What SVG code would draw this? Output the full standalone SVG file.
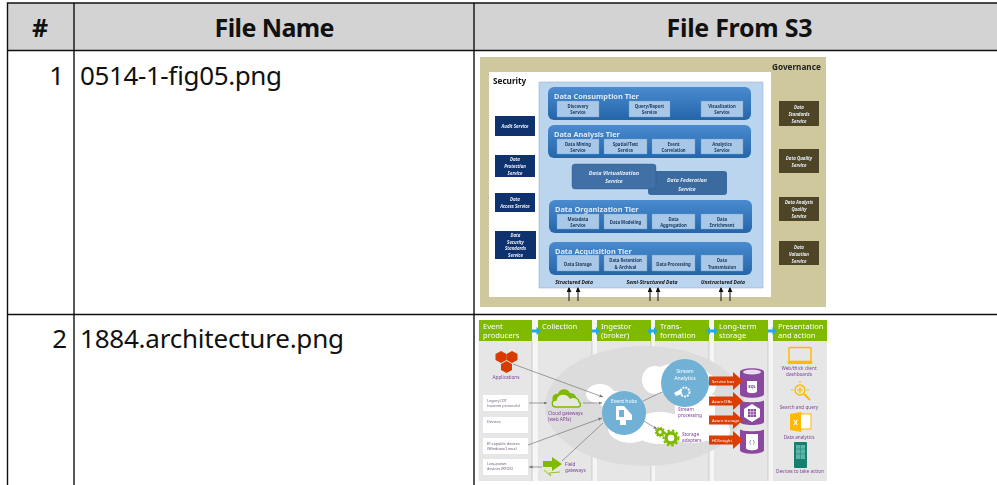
<svg xmlns="http://www.w3.org/2000/svg" width="997" height="485" viewBox="0 0 997 485">
<style>
text{font-family:"Noto Sans","Liberation Sans",sans-serif}
.gl{stroke:#111;stroke-width:1.4;fill:none}
.h{font-size:25px;font-weight:700;fill:#111;text-anchor:middle}
.c{font-size:26px;fill:#111}
.s{font-weight:700}
.lb{fill:#e8eef6;font-size:4.4px;font-weight:700;font-style:italic;text-anchor:middle}
.tier{fill:#2f70b8}
.tt{fill:#dbe8f6;font-size:7.4px;font-weight:700}
.bx{fill:#a9c8e8;stroke:#6f9ccc;stroke-width:.4}
.bt{fill:#17365d;font-size:4.3px;font-weight:700;text-anchor:middle}
.nv{fill:#10306e}
.ol{fill:#4e4527}
.ds{fill:#111;font-size:5px;font-weight:700;font-style:italic;text-anchor:middle}
.col{fill:#e6e6e6}
.gr{fill:#7fba00}
.ht{fill:#fff;font-size:7.6px}
.p{fill:#7b3f98;font-size:4.7px}
.pm{fill:#7b3f98;font-size:4.7px;text-anchor:middle}
.w{fill:#fff}
.ln{stroke:#777;stroke-width:.7;fill:none}
.ar{fill:#dc3c00}
.rt{fill:#fff;font-size:4.2px}
.cy{fill:#8a4a9f}
.ba{fill:#27a9e1}
.sm{fill:#6b5a78;font-size:3.8px}
</style>
<defs>
<filter id="soft" x="-2%" y="-2%" width="104%" height="104%"><feGaussianBlur stdDeviation="0.3"/></filter>
<marker id="ah" markerWidth="5" markerHeight="5" refX="4" refY="2.5" orient="auto"><path d="M0 0L5 2.5L0 5z" fill="#111"/></marker>
<marker id="gh" markerWidth="6" markerHeight="6" refX="5" refY="3" orient="auto"><path d="M0 .8L5 3L0 5.2z" fill="#777"/></marker>
<linearGradient id="tg" x1="0" y1="0" x2="0" y2="1"><stop offset="0" stop-color="#4a8bd0"/><stop offset="1" stop-color="#2465a8"/></linearGradient>
</defs>

<g id="table">
<rect x="8" y="3" width="989" height="47.500" fill="#d3d3d3"/>
<path class="gl" d="M997 3H7.500V485M74 3V485M474 3V485M7 50.500H997M7 314.500H997"/>
<text class="h" x="40" y="37">#</text>
<text class="h" x="274.500" y="37" textLength="120">File Name</text>
<text class="h" x="739.500" y="37" textLength="146">File From S3</text>
<text class="c" x="64" y="85" text-anchor="end">1</text>
<text class="c" x="80" y="85" textLength="202">0514-1-fig05.png</text>
<text class="c" x="67" y="348" text-anchor="end">2</text>
<text class="c" x="80" y="348" textLength="264">1884.architecture.png</text>
</g>

<g id="figure-1" filter="url(#soft)">
<rect x="480" y="57" width="346" height="250" fill="#cfc89c"/>
<rect x="489" y="72" width="282" height="225" fill="#fff"/>
<rect x="539" y="82" width="224" height="206" fill="#bcd5ef" stroke="#8aa9c8" stroke-width=".5"/>
<text x="772" y="69.500" font-size="8.200" font-weight="700" fill="#222">Governance</text>
<text x="493" y="84" font-size="8.200" font-weight="700" fill="#111">Security</text>

<g id="tier-consumption">
<rect x="548" y="87" width="203" height="33" rx="6" fill="url(#tg)"/>
<text class="tt" x="554" y="99">Data Consumption Tier</text>
<rect class="bx" x="557" y="101" width="42" height="16"/><text class="bt" x="578" y="108">Discovery</text><text class="bt" x="578" y="114">Service</text>
<rect class="bx" x="629" y="101" width="41" height="16"/><text class="bt" x="649.500" y="108">Query/Report</text><text class="bt" x="649.500" y="114">Service</text>
<rect class="bx" x="701" y="101" width="42" height="16"/><text class="bt" x="722" y="108">Visualization</text><text class="bt" x="722" y="114">Service</text>
</g>
<g id="tier-analysis">
<rect x="548" y="125" width="203" height="33" rx="6" fill="url(#tg)"/>
<text class="tt" x="554" y="137">Data Analysis Tier</text>
<rect class="bx" x="557" y="139" width="42" height="15"/><text class="bt" x="578" y="146">Data Mining</text><text class="bt" x="578" y="152">Service</text>
<rect class="bx" x="604" y="139" width="43" height="15"/><text class="bt" x="625.500" y="146">Spatial/Text</text><text class="bt" x="625.500" y="152">Service</text>
<rect class="bx" x="652" y="139" width="43" height="15"/><text class="bt" x="673.500" y="146">Event</text><text class="bt" x="673.500" y="152">Correlation</text>
<rect class="bx" x="701" y="139" width="42" height="15"/><text class="bt" x="722" y="146">Analytics</text><text class="bt" x="722" y="152">Service</text>
</g>
<g id="federation">
<rect x="648" y="171" width="79" height="24" rx="3" fill="#3a6a9f"/>
<text class="lb" font-size="5" x="687" y="182" style="font-size:5.200px">Data Federation</text><text class="lb" x="687" y="191" style="font-size:5.200px">Service</text>
</g>
<g id="virtualization">
<rect x="572" y="164" width="84" height="25" rx="3" fill="#3f70a6" stroke="#2d5788" stroke-width=".4"/>
<text class="lb" x="614" y="175" style="font-size:5.600px">Data Virtualization</text><text class="lb" x="614" y="183" style="font-size:5.200px">Service</text>
</g>
<g id="tier-organization">
<rect x="549" y="200" width="203" height="33" rx="6" fill="url(#tg)"/>
<text class="tt" x="555" y="212">Data Organization Tier</text>
<rect class="bx" x="557" y="214" width="42" height="15"/><text class="bt" x="578" y="221">Metadata</text><text class="bt" x="578" y="227">Service</text>
<rect class="bx" x="604" y="214" width="43" height="15"/><text class="bt" x="625.500" y="224">Data Modeling</text>
<rect class="bx" x="652" y="214" width="43" height="15"/><text class="bt" x="673.500" y="221">Data</text><text class="bt" x="673.500" y="227">Aggregation</text>
<rect class="bx" x="701" y="214" width="42" height="15"/><text class="bt" x="722" y="221">Data</text><text class="bt" x="722" y="227">Enrichment</text>
</g>
<g id="tier-acquisition">
<rect x="549" y="242" width="203" height="33" rx="6" fill="url(#tg)"/>
<text class="tt" x="555" y="253.500">Data Acquisition Tier</text>
<rect class="bx" x="557" y="255" width="42" height="16"/><text class="bt" x="578" y="266">Data Storage</text>
<rect class="bx" x="604" y="255" width="43" height="16"/><text class="bt" x="625.500" y="262">Data Retention</text><text class="bt" x="625.500" y="269">&amp; Archival</text>
<rect class="bx" x="652" y="255" width="43" height="16"/><text class="bt" x="673.500" y="266">Data Processing</text>
<rect class="bx" x="701" y="255" width="42" height="16"/><text class="bt" x="722" y="262">Data</text><text class="bt" x="722" y="269">Transmission</text>
</g>
<text class="ds" x="574" y="284">Structured Data</text>
<text class="ds" x="652" y="284">Semi-Structured Data</text>
<text class="ds" x="723" y="284">Unstructured Data</text>
<g id="data-arrows" stroke="#111" stroke-width="1" marker-end="url(#ah)">
<line x1="569" y1="301" x2="569" y2="288" marker-end="url(#ah)"/><line x1="578" y1="301" x2="578" y2="288" marker-end="url(#ah)"/>
<line x1="650" y1="301" x2="650" y2="288" marker-end="url(#ah)"/><line x1="658" y1="301" x2="658" y2="288" marker-end="url(#ah)"/>
<line x1="721" y1="301" x2="721" y2="288" marker-end="url(#ah)"/><line x1="730" y1="301" x2="730" y2="288" marker-end="url(#ah)"/>
</g>
<g id="security-services">
<rect class="nv" x="495" y="116" width="40" height="20"/><text class="lb" x="515" y="128">Audit Service</text>
<rect class="nv" x="495" y="155" width="40" height="22"/><text class="lb" x="515" y="161">Data</text><text class="lb" x="515" y="168">Protection</text><text class="lb" x="515" y="175">Service</text>
<rect class="nv" x="495" y="193" width="40" height="19"/><text class="lb" x="515" y="201">Data</text><text class="lb" x="515" y="208">Access Service</text>
<rect class="nv" x="495" y="231" width="41" height="28"/><text class="lb" x="515.500" y="237">Data</text><text class="lb" x="515.500" y="244">Security</text><text class="lb" x="515.500" y="250">Standards</text><text class="lb" x="515.500" y="257">Service</text>
</g>
<g id="governance-services">
<rect class="ol" x="779" y="101" width="40" height="25"/><text class="lb" x="799" y="109">Data</text><text class="lb" x="799" y="116">Standards</text><text class="lb" x="799" y="123">Service</text>
<rect class="ol" x="779" y="149" width="40" height="24"/><text class="lb" x="799" y="160">Data Quality</text><text class="lb" x="799" y="167">Service</text>
<rect class="ol" x="779" y="197" width="40" height="24"/><text class="lb" x="799" y="204">Data Analysis</text><text class="lb" x="799" y="211">Quality</text><text class="lb" x="799" y="218">Service</text>
<rect class="ol" x="779" y="241" width="40" height="24"/><text class="lb" x="799" y="249">Data</text><text class="lb" x="799" y="256">Valuation</text><text class="lb" x="799" y="263">Service</text>
</g>
</g>

<g id="figure-2" filter="url(#soft)">
<rect x="478" y="320" width="349" height="161" fill="#f5f5f5"/>
<rect class="col" x="479" y="320" width="53" height="161"/>
<rect class="col" x="538" y="320" width="54" height="161"/>
<rect class="col" x="597" y="320" width="54" height="161"/>
<rect class="col" x="655" y="320" width="54" height="161"/>
<rect class="col" x="714" y="320" width="54" height="161"/>
<rect class="col" x="773" y="320" width="54" height="161"/>
<path d="M532 341V481M592 341V481M651 341V481M709 341V481M768 341V481" stroke="#aaa" stroke-width=".5"/>
<ellipse cx="645" cy="406" rx="100" ry="60" fill="#dcdcdc"/>
<g id="clouds" class="w">
<ellipse cx="600" cy="394" rx="14" ry="10"/><ellipse cx="614" cy="400" rx="16" ry="9"/>
<ellipse cx="630" cy="428" rx="22" ry="15"/><ellipse cx="660" cy="428" rx="28" ry="16"/><ellipse cx="692" cy="428" rx="30" ry="15"/><ellipse cx="716" cy="431" rx="14" ry="12"/>
<ellipse cx="655" cy="380" rx="13" ry="14"/><ellipse cx="680" cy="378" rx="30" ry="15"/><ellipse cx="705" cy="385" rx="11" ry="12"/><rect x="675" y="395" width="40" height="30"/>
</g>
<g id="headers">
<rect class="gr" x="479" y="320" width="53" height="21"/><rect class="gr" x="538" y="320" width="54" height="21"/><rect class="gr" x="597" y="320" width="54" height="21"/><rect class="gr" x="655" y="320" width="54" height="21"/><rect class="gr" x="714" y="320" width="54" height="21"/><rect class="gr" x="773" y="320" width="54" height="21"/>
<text class="ht" x="483" y="329">Event</text><text class="ht" x="483" y="337.500">producers</text>
<text class="ht" x="542" y="329">Collection</text>
<text class="ht" x="601" y="329">Ingestor</text><text class="ht" x="601" y="337.500">(broker)</text>
<text class="ht" x="660" y="329">Trans-</text><text class="ht" x="660" y="337.500">formation</text>
<text class="ht" x="719" y="329">Long-term</text><text class="ht" x="719" y="337.500">storage</text>
<text class="ht" x="778" y="329">Presentation</text><text class="ht" x="778" y="337.500">and action</text>
</g>
<g id="flow-arrows" class="ba">
<path d="M532 329.500h4.500v-2.500l4.500 4-4.500 4v-2.500h-4.500z"/>
<path d="M592 329.500h4v-2.500l4.500 4-4.500 4v-2.500h-4z"/>
<path d="M647 331l4-4v2.500h3v-2.500l4 4-4 4v-2.500h-3v2.500z"/>
<path d="M706 331l4-4v2.500h4v-2.500l4 4-4 4v-2.500h-4v2.500z"/>
<path d="M768 329.500h4.500v-2.500l4.500 4-4.500 4v-2.500h-4.500z"/>
</g>
<g id="connectors">
<line class="ln" x1="513" y1="364" x2="603" y2="397" marker-end="url(#gh)"/>
<line class="ln" x1="529" y1="403" x2="547" y2="403" marker-end="url(#gh)"/>
<line class="ln" x1="583" y1="403" x2="602" y2="403" marker-end="url(#gh)"/>
<line class="ln" x1="528" y1="445" x2="602" y2="418" marker-end="url(#gh)"/>
<line class="ln" x1="562" y1="461" x2="603" y2="423"/>
<line class="ln" x1="542" y1="467" x2="529" y2="467" marker-end="url(#gh)"/>
<line class="ln" x1="643" y1="401" x2="662" y2="392"/>
<line class="ln" x1="644" y1="421" x2="657" y2="429" marker-end="url(#gh)"/>
</g>
<g id="applications" fill="#d83b01">
<path d="M501 351l5.500 3v6l-5.500 3-5.500-3v-6z"/><path d="M512 351l5.500 3v6l-5.500 3-5.500-3v-6z"/><path d="M506.500 361l5.500 3v6l-5.500 3-5.500-3v-6z"/>
<text class="pm" x="506" y="379">Applications</text>
</g>
<g id="devices">
<rect class="w" x="483" y="395" width="45" height="16"/><text class="sm" x="487" y="401.500">Legacy IOT</text><text class="sm" x="487" y="406.500">(custom protocols)</text>
<rect class="w" x="483" y="417" width="45" height="16"/><text class="sm" x="487" y="423">Devices</text>
<rect class="w" x="483" y="438" width="45" height="16"/><text class="sm" x="487" y="445">IP-capable devices</text><text class="sm" x="487" y="450">(Windows/Linux)</text>
<rect class="w" x="483" y="459" width="45" height="16"/><text class="sm" x="487" y="465">Low-power</text><text class="sm" x="487" y="470">devices (RTOS)</text>
</g>
<g id="cloud-gateways">
<path d="M553 401c-2-5 2-8 5-7 1-5 9-7 12-1 3 0 5 1 6 4l-6 6h-15z" fill="#7fba00"/>
<path d="M556 407c-5 0-5-7 0-7 1-7 11-8 14-2 5-2 9 1 9 4 2 1 2 5-1 5z" fill="#e6e6e6" stroke="#7fba00" stroke-width="1.400"/>
<text class="p" x="548" y="415">Cloud gateways</text><text class="p" x="548" y="421">(web APIs)</text>
</g>
<g id="field-gateways">
<path d="M543 461h9v-4l10 7-10 7v-4h-9z" fill="#7fba00"/>
<path d="M544 470l7 6-2-3 11-1" fill="none" stroke="#7fba00" stroke-width=".8"/>
<text class="p" x="565" y="466">Field</text><text class="p" x="565" y="472">gateways</text>
</g>
<g id="event-hubs">
<circle cx="624" cy="413" r="22" fill="#6fb1d5"/>
<text x="624" y="403" font-size="5" fill="#fff" text-anchor="middle">Event hubs</text>
<path d="M616 406h8l8 9v5h-6v5h-6v-5h-4z" fill="#fff"/><path d="M619 410h5v7h-5z" fill="#6fb1d5"/>
</g>
<g id="stream-analytics">
<circle cx="685" cy="383" r="24" fill="#6fb1d5"/>
<text x="685" y="373" font-size="5.200" fill="#fff" text-anchor="middle">Stream</text><text x="685" y="380" font-size="5.200" fill="#fff" text-anchor="middle">Analytics</text>
<circle cx="685" cy="392" r="4.500" fill="none" stroke="#fff" stroke-width="2" stroke-dasharray="2 1"/><path d="M674 393l7-4 1 5-6 2z" fill="#fff"/>
<text class="p" x="678" y="411">Stream</text><text class="p" x="678" y="417">processing</text>
</g>
<g id="storage-adapters">
<circle cx="660" cy="432" r="3" fill="none" stroke="#7fba00" stroke-width="2.500"/>
<circle cx="660" cy="432" r="4.500" fill="none" stroke="#7fba00" stroke-width="1.500" stroke-dasharray="1.500 1.500"/>
<circle cx="671" cy="438" r="5" fill="none" stroke="#7fba00" stroke-width="3.500"/>
<circle cx="671" cy="438" r="7.500" fill="none" stroke="#7fba00" stroke-width="2" stroke-dasharray="2.500 2"/>
<text class="p" x="682" y="436">Storage</text><text class="p" x="682" y="442">adapters</text>
</g>
<g id="storage">
<path class="cy" d="M740 372c0-5 24-5 24 0v22c0 5-24 5-24 0z"/>
<path class="cy" d="M740 400c0 3 24 3 24 0v22c0 4-24 4-24 0z"/>
<path class="cy" d="M740 429c0 3 24 3 24 0v21c0 5-24 5-24 0z"/>
<ellipse cx="752" cy="372" rx="9" ry="2.500" fill="#e9dcef"/>
<path d="M747 381v10c0 3 10 3 10 0v-10z" fill="#fff"/><text x="752" y="388" font-size="4" font-weight="700" fill="#5c2d78" text-anchor="middle">SQL</text>
<path d="M752 404l8 5v8l-8 5-8-5v-8z" fill="#fff"/><path d="M748 409h8v8h-8z" fill="#8a4a9f"/><path d="M748 411.700h8M748 414.300h8M750.700 409v8M753.300 409v8" stroke="#fff" stroke-width=".5"/>
<path d="M746 434v14c0 3 12 3 12 0v-14z" fill="#fff"/><text x="752" y="444" font-size="6" fill="#5b7fc0" text-anchor="middle">{ }</text>
<path class="ar" d="M709 376.500h24v-4.500l10 9-10 9v-4.500h-24z"/><text class="rt" x="712" y="383">Service bus</text>
<path class="ar" d="M709 396.500h24v-4.500l10 9-10 9v-4.500h-24z"/><text class="rt" x="712" y="403">Azure DBs</text>
<path class="ar" d="M709 415.500h24v-4.500l10 9-10 9v-4.500h-24z"/><text class="rt" x="712" y="422">Azure storage</text>
<path class="ar" d="M709 435.500h24v-4.500l10 9-10 9v-4.500h-24z"/><text class="rt" x="712" y="442">HDInsight</text>
</g>
<g id="presentation">
<rect x="789" y="347.500" width="22" height="14" rx="1" fill="none" stroke="#ffb900" stroke-width="1.400"/><path d="M787 361.500h26l-1.500 2.500h-23z" fill="#ffb900"/>
<text class="pm" x="799" y="370">Web/thick client</text><text class="pm" x="799" y="375.500">dashboards</text>
<circle cx="800" cy="390" r="5" fill="none" stroke="#ffb900" stroke-width="1.400"/><path d="M800 387v6M797 390h6" stroke="#ffb900" stroke-width="1.200"/><path d="M804 394l6 6" stroke="#ffb900" stroke-width="2"/><path d="M791 390h2M807 390h2M800 381v2" stroke="#ffb900"/>
<text class="pm" x="799" y="408.500">Search and query</text>
<rect x="799" y="414" width="12" height="15" fill="#fff" stroke="#ffb900"/><path d="M790 414l11-2v20l-11-2z" fill="#ffb900"/><text x="795.500" y="425" font-size="7" fill="#fff" font-weight="700" text-anchor="middle">X</text>
<text class="pm" x="799" y="438.500">Data analytics</text>
<rect x="794" y="442" width="13" height="26" rx="1" fill="#12806f"/><rect x="796" y="445" width="9" height="14" fill="#5eb3a5"/><path d="M800.500 445v14M796 449h9M796 454h9" stroke="#12806f" stroke-width=".5"/>
<text class="pm" x="800" y="472.500">Devices to take action</text>
</g>
</g>
</svg>
